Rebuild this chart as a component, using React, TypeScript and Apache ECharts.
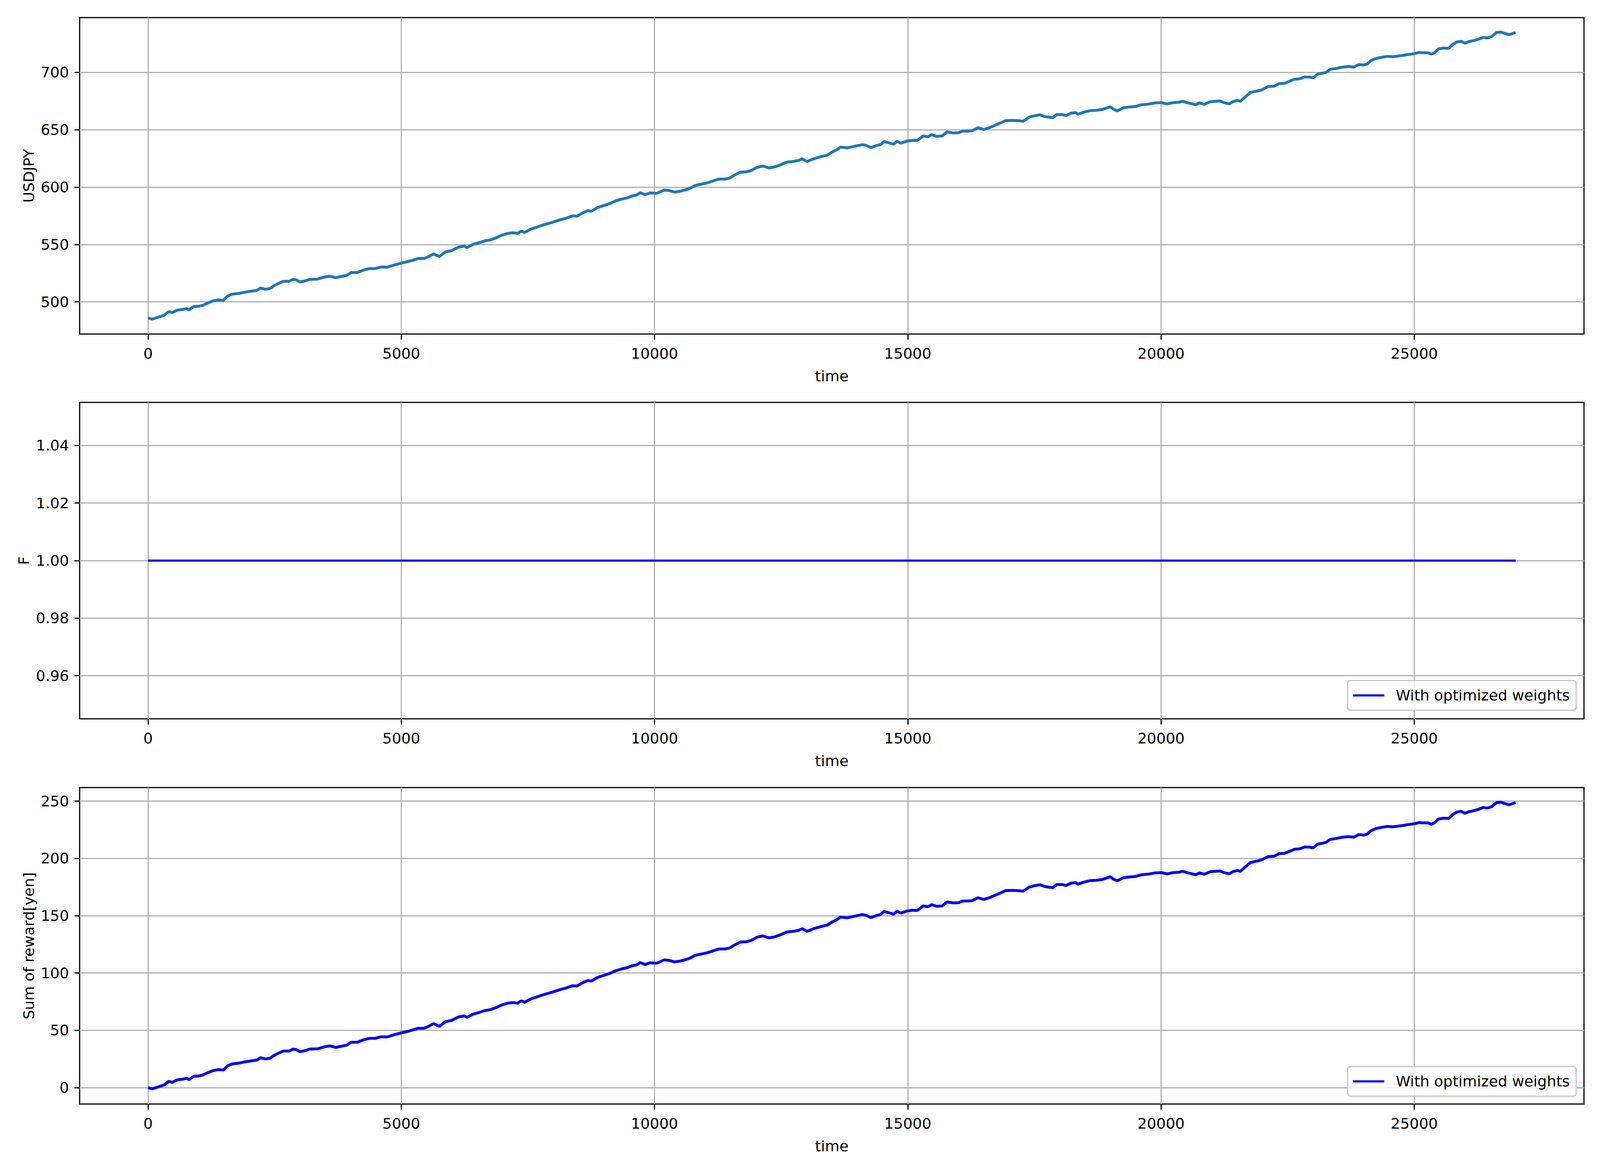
import * as echarts from "echarts";
import { useEffect, useRef } from "react";

// time steps (shared by the USDJPY and reward curves)
const timeSteps = [
  0, 80, 198, 315, 410, 480, 574, 692, 763, 810, 904, 998, 1069, 1163, 1281, 1375, 1492, 1563, 1657, 1798,
  1916, 2034, 2152, 2222, 2316, 2410, 2481, 2552, 2669, 2787, 2858, 2928, 2999, 3117, 3187, 3352, 3470, 3588,
  3705, 3823, 3917, 4011, 4129, 4247, 4364, 4482, 4600, 4717, 4859, 5000, 5094, 5212, 5330, 5447, 5518, 5636,
  5753, 5871, 5989, 6130, 6248, 6295, 6413, 6530, 6648, 6766, 6883, 6980, 7108, 7202, 7296, 7366, 7437, 7554,
  7648, 7766, 7884, 8001, 8119, 8260, 8377, 8471, 8566, 8683, 8754, 8871, 8989, 9106, 9224, 9342, 9459, 9553,
  9647, 9718, 9812, 9906, 10047, 10188, 10282, 10400, 10494, 10611, 10705, 10799, 10917, 11035, 11152, 11270,
  11387, 11481, 11576, 11693, 11811, 11905, 12022, 12140, 12258, 12375, 12493, 12611, 12728, 12846, 12916,
  13010, 13151, 13292, 13410, 13504, 13598, 13668, 13810, 13927, 14050, 14107, 14178, 14272, 14389, 14460,
  14530, 14624, 14718, 14789, 14859, 14977, 15094, 15188, 15305, 15399, 15470, 15564, 15681, 15775, 15893,
  16010, 16081, 16175, 16269, 16386, 16504, 16621, 16739, 16833, 16927, 17068, 17209, 17279, 17397, 17491,
  17608, 17702, 17772, 17866, 17937, 18054, 18125, 18219, 18313, 18360, 18477, 18595, 18712, 18830, 18924,
  18994, 19065, 19135, 19253, 19370, 19488, 19605, 19746, 19887, 20005, 20122, 20240, 20357, 20428, 20522,
  20592, 20686, 20757, 20851, 20968, 21062, 21163, 21243, 21344, 21424, 21505, 21566, 21646, 21767, 21868,
  21989, 22110, 22231, 22332, 22432, 22533, 22634, 22735, 22835, 22936, 22997, 23097, 23178, 23259, 23339,
  23460, 23581, 23702, 23803, 23904, 24004, 24065, 24145, 24246, 24367, 24468, 24569, 24669, 24770, 24871,
  24992, 25093, 25173, 25274, 25335, 25395, 25476, 25576, 25677, 25758, 25838, 25919, 26000, 26080, 26181,
  26262, 26362, 26443, 26524, 26624, 26705, 26786, 26866, 26927, 27000,
];

const usdjpy = [
  486.0, 484.9, 486.6, 488.3, 491.5, 490.6, 492.8, 493.4, 494.2, 493.0, 496.0, 496.2, 496.8, 498.7, 500.8,
  501.7, 501.4, 504.8, 506.7, 507.4, 508.5, 509.3, 510.1, 512.2, 511.0, 511.6, 513.9, 515.6, 517.9, 517.9,
  519.6, 519.2, 517.3, 518.5, 519.6, 519.9, 521.5, 522.4, 521.1, 522.2, 523.0, 525.6, 525.6, 527.6, 529.0,
  529.0, 530.4, 530.2, 532.1, 533.8, 534.7, 536.1, 537.8, 537.8, 539.0, 541.8, 539.5, 543.5, 544.6, 547.7,
  548.6, 547.3, 550.0, 551.5, 553.2, 554.1, 556.0, 558.1, 559.7, 560.2, 559.7, 561.7, 560.5, 563.4, 564.7,
  566.5, 568.1, 569.6, 571.3, 573.0, 574.9, 574.7, 577.2, 579.5, 579.0, 582.1, 583.8, 585.5, 587.8, 589.5,
  590.6, 592.3, 593.1, 595.1, 593.4, 594.9, 594.6, 597.4, 597.1, 595.7, 596.3, 597.6, 599.1, 601.4, 602.5,
  603.6, 605.3, 607.0, 607.0, 607.8, 610.4, 613.0, 613.3, 614.4, 617.2, 618.4, 616.7, 617.6, 619.5, 621.8,
  622.3, 623.2, 624.6, 622.3, 624.8, 626.6, 627.8, 630.5, 632.5, 634.8, 634.2, 635.4, 636.5, 637.0, 636.3,
  634.4, 636.3, 637.0, 639.7, 638.6, 637.4, 640.0, 638.3, 640.0, 640.8, 640.6, 644.6, 643.8, 645.7, 644.2,
  644.6, 648.0, 647.2, 647.4, 648.8, 648.8, 649.1, 651.7, 650.2, 651.9, 654.2, 655.9, 657.9, 658.1, 657.8,
  657.4, 661.0, 662.1, 663.0, 661.5, 661.0, 660.4, 663.2, 663.2, 662.3, 664.4, 664.9, 663.5, 665.3, 666.6,
  666.9, 667.5, 668.9, 670.0, 667.8, 666.4, 669.1, 669.8, 670.2, 671.7, 672.3, 673.4, 673.6, 672.5, 673.6,
  674.0, 674.8, 673.4, 672.8, 671.7, 673.4, 672.1, 674.3, 674.7, 675.1, 673.6, 672.5, 674.6, 675.5, 674.8,
  677.9, 682.5, 683.4, 684.7, 687.6, 687.9, 690.2, 690.4, 692.1, 694.0, 694.3, 696.0, 695.8, 695.1, 698.5,
  699.2, 700.0, 702.6, 703.4, 704.5, 705.1, 704.5, 706.8, 706.4, 707.1, 710.2, 712.1, 713.2, 713.9, 713.6,
  714.1, 714.7, 715.5, 716.2, 717.3, 717.0, 717.0, 715.8, 717.0, 720.4, 721.1, 720.9, 724.3, 726.4, 727.1,
  725.4, 726.8, 727.7, 728.8, 730.5, 729.9, 731.1, 734.7, 735.1, 733.9, 732.8, 733.6, 734.7,
];

const rewardSum = [
  0.0, -1.1, 0.6, 2.3, 5.5, 4.6, 6.8, 7.4, 8.2, 7.0, 10.0, 10.2, 10.8, 12.7, 14.8, 15.7, 15.4, 18.8, 20.7,
  21.4, 22.5, 23.3, 24.1, 26.2, 25.0, 25.6, 27.9, 29.6, 31.9, 31.9, 33.6, 33.2, 31.3, 32.5, 33.6, 33.9, 35.5,
  36.4, 35.1, 36.2, 37.0, 39.6, 39.6, 41.6, 43.0, 43.0, 44.4, 44.2, 46.1, 47.8, 48.7, 50.1, 51.8, 51.8, 53.0,
  55.8, 53.5, 57.5, 58.6, 61.7, 62.6, 61.3, 64.0, 65.5, 67.2, 68.1, 70.0, 72.1, 73.7, 74.2, 73.7, 75.7, 74.5,
  77.4, 78.7, 80.5, 82.1, 83.6, 85.3, 87.0, 88.9, 88.7, 91.2, 93.5, 93.0, 96.1, 97.8, 99.5, 101.8, 103.5,
  104.6, 106.3, 107.1, 109.1, 107.4, 108.9, 108.6, 111.4, 111.1, 109.7, 110.3, 111.6, 113.1, 115.4, 116.5,
  117.6, 119.3, 121.0, 121.0, 121.8, 124.4, 127.0, 127.3, 128.4, 131.2, 132.4, 130.7, 131.6, 133.5, 135.8,
  136.3, 137.2, 138.6, 136.3, 138.8, 140.6, 141.8, 144.5, 146.5, 148.8, 148.2, 149.4, 150.5, 151.0, 150.3,
  148.4, 150.3, 151.0, 153.7, 152.6, 151.4, 154.0, 152.3, 154.0, 154.8, 154.6, 158.6, 157.8, 159.7, 158.2,
  158.6, 162.0, 161.2, 161.4, 162.8, 162.8, 163.1, 165.7, 164.2, 165.9, 168.2, 169.9, 171.9, 172.1, 171.8,
  171.4, 175.0, 176.1, 177.0, 175.5, 175.0, 174.4, 177.2, 177.2, 176.3, 178.4, 178.9, 177.5, 179.3, 180.6,
  180.9, 181.5, 182.9, 184.0, 181.8, 180.4, 183.1, 183.8, 184.2, 185.7, 186.3, 187.4, 187.6, 186.5, 187.6,
  188.0, 188.8, 187.4, 186.8, 185.7, 187.4, 186.1, 188.3, 188.7, 189.1, 187.6, 186.5, 188.6, 189.5, 188.8,
  191.9, 196.5, 197.4, 198.7, 201.6, 201.9, 204.2, 204.4, 206.1, 208.0, 208.3, 210.0, 209.8, 209.1, 212.5,
  213.2, 214.0, 216.6, 217.4, 218.5, 219.1, 218.5, 220.8, 220.4, 221.1, 224.2, 226.1, 227.2, 227.9, 227.6,
  228.1, 228.7, 229.5, 230.2, 231.3, 231.0, 231.0, 229.8, 231.0, 234.4, 235.1, 234.9, 238.3, 240.4, 241.1,
  239.4, 240.8, 241.7, 242.8, 244.5, 243.9, 245.1, 248.7, 249.1, 247.9, 246.8, 247.6, 248.7,
];

// position F stays at 1 the whole run
const fTimes = [0, 27000];
const fValues = [1, 1];

const timeTicks = [0, 5000, 10000, 15000, 20000, 25000];
const usdjpyTicks = [500, 550, 600, 650, 700];
const fTicks = [0.96, 0.98, 1.0, 1.02, 1.04];
const rewardTicks = [0, 50, 100, 150, 200, 250];

const legendLabel = "With optimized weights";

const FONT = "DejaVu Sans";
const DESIGN_W = 4500;
const DESIGN_H = 3000;
const gridTops = [45, 1030, 2016];

export default function App() {
  const chartRef = useRef<HTMLDivElement>(null);
  // layout is measured on a 4500x3000 page; stretch it to the real viewport
  const vw = typeof window !== "undefined" ? window.innerWidth : DESIGN_W;
  const vh = typeof window !== "undefined" ? window.innerHeight : DESIGN_H;
  const sx = vw / DESIGN_W;
  const sy = vh / DESIGN_H;

  useEffect(() => {
    document.body.style.margin = "0";
    if (!chartRef.current) return;
    const chart = echarts.init(chartRef.current, undefined, { renderer: "svg" });

    const px = (v: number) => v * sx; // horizontal sizes, fonts, line widths
    const py = (v: number) => v * sy; // vertical positions
    const FS = px(41.7);
    const LW = px(3.33);

    const xAxisFor = (gridIndex: number) => ({
      type: "value",
      gridIndex,
      min: -1350,
      max: 28350,
      name: "time",
      nameLocation: "middle",
      nameGap: py(89),
      nameTextStyle: { fontFamily: FONT, fontSize: FS, color: "#000" },
      axisLine: { show: false, onZero: false },
      axisTick: {
        show: true,
        length: py(14.6),
        customValues: timeTicks,
        lineStyle: { color: "#000", width: LW },
      },
      axisLabel: {
        customValues: timeTicks,
        margin: py(31),
        fontFamily: FONT,
        fontSize: FS,
        color: "#000",
        formatter: (v: number) => String(v),
      },
      splitLine: { show: true, lineStyle: { color: "#b0b0b0", width: LW } },
    });

    const yAxisFor = (
      gridIndex: number,
      name: string,
      min: number,
      max: number,
      ticks: number[],
      nameGap: number,
      digits: number
    ) => ({
      type: "value",
      gridIndex,
      min,
      max,
      name,
      nameLocation: "middle",
      nameGap: px(nameGap),
      nameTextStyle: { fontFamily: FONT, fontSize: FS, color: "#000" },
      axisLine: { show: false, onZero: false },
      axisTick: {
        show: true,
        length: px(14.6),
        customValues: ticks,
        lineStyle: { color: "#000", width: LW },
      },
      axisLabel: {
        customValues: ticks,
        margin: px(30),
        fontFamily: FONT,
        fontSize: FS,
        color: "#000",
        formatter: (v: number) => v.toFixed(digits),
      },
      splitLine: { show: true, lineStyle: { color: "#b0b0b0", width: LW } },
    });

    const legendAt = (bottom: number) => ({
      right: px(67),
      bottom: py(bottom),
      data: [legendLabel],
      selectedMode: false,
      orient: "horizontal",
      icon: "rect",
      itemWidth: px(88),
      itemHeight: px(6),
      padding: [py(14), px(18), py(14), px(15)],
      backgroundColor: "rgba(255,255,255,0.8)",
      borderColor: "#cccccc",
      borderWidth: px(4),
      borderRadius: px(8),
      textStyle: {
        fontFamily: FONT,
        fontSize: FS,
        color: "#000",
        lineHeight: py(48),
        padding: [0, 0, 0, px(27)],
      },
    });

    const option = {
      animation: false,
      backgroundColor: "#ffffff",
      grid: gridTops.map((top) => ({
        left: px(224),
        right: px(45),
        top: py(top),
        height: py(810),
        show: true,
        borderColor: "#000",
        borderWidth: LW,
        backgroundColor: "transparent",
      })),
      xAxis: [xAxisFor(0), xAxisFor(1), xAxisFor(2)],
      yAxis: [
        yAxisFor(0, "USDJPY", 472, 747.7, usdjpyTicks, 122, 0),
        yAxisFor(1, "F", 0.945, 1.055, fTicks, 136, 2),
        yAxisFor(2, "Sum of reward[yen]", -14.3, 261.8, rewardTicks, 122, 0),
      ],
      legend: [legendAt(1182), legendAt(194)],
      series: [
        {
          type: "line",
          name: "USDJPY",
          xAxisIndex: 0,
          yAxisIndex: 0,
          showSymbol: false,
          data: timeSteps.map((t, i) => [t, usdjpy[i]]),
          itemStyle: { color: "#1f77b4" },
          lineStyle: { color: "#1f77b4", width: px(8) },
        },
        {
          type: "line",
          name: legendLabel,
          xAxisIndex: 1,
          yAxisIndex: 1,
          showSymbol: false,
          data: fTimes.map((t, i) => [t, fValues[i]]),
          itemStyle: { color: "#0000ff" },
          lineStyle: { color: "#0000ff", width: px(6.25) },
        },
        {
          type: "line",
          name: legendLabel,
          xAxisIndex: 2,
          yAxisIndex: 2,
          showSymbol: false,
          data: timeSteps.map((t, i) => [t, rewardSum[i]]),
          itemStyle: { color: "#0000ff" },
          lineStyle: { color: "#0000ff", width: px(8) },
        },
      ],
    };

    chart.setOption(option);
    return () => {
      chart.dispose();
    };
  }, []);

  return (
    <div
      ref={chartRef}
      style={{ width: `${DESIGN_W * sx}px`, height: `${DESIGN_H * sy}px` }}
    />
  );
}
